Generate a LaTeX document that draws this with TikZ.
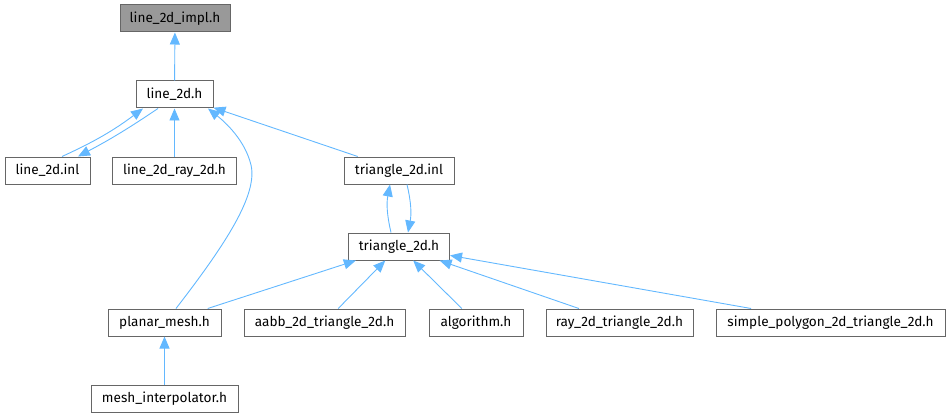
\documentclass[tikz,border=0pt]{standalone}
\usepackage{fontspec}
\setmainfont{Fira Sans}
\usetikzlibrary{arrows.meta}
\definecolor{edgeblue}{HTML}{63B8FF}
\definecolor{boxgray}{HTML}{666666}
\definecolor{fillgray}{HTML}{999999}
\tikzset{
  box/.style={draw=boxgray, line width=1pt, fill=white, minimum height=27pt, inner sep=0pt, font=\fontsize{13.6}{16}\selectfont, text=black},
  edge/.style={draw=edgeblue, line width=0.9pt, -{Triangle[length=12pt,width=10pt]}},
}
\begin{document}
\begin{tikzpicture}[x=1pt,y=-1pt]
\useasboundingbox (0,0) rectangle (950,417);
\node[box, fill=fillgray, minimum width=110pt] (impl) at (175,18.5) {line\_2d\_impl.h};
\node[box, minimum width=77pt] (l2) at (174.5,94.5) {line\_2d.h};
\node[box, minimum width=85pt] (inl) at (47.5,170.5) {line\_2d.inl};
\node[box, minimum width=124pt] (ray2) at (174.5,170.5) {line\_2d\_ray\_2d.h};
\node[box, minimum width=110pt] (tinl) at (399,170.5) {triangle\_2d.inl};
\node[box, minimum width=101pt] (th) at (399,246.5) {triangle\_2d.h};
\node[box, minimum width=113pt] (pm) at (164.5,322.5) {planar\_mesh.h};
\node[box, minimum width=161pt] (aabb) at (324.5,322.5) {aabb\_2d\_triangle\_2d.h};
\node[box, minimum width=94pt] (alg) at (476,322.5) {algorithm.h};
\node[box, minimum width=147pt] (rt) at (619.5,322.5) {ray\_2d\_triangle\_2d.h};
\node[box, minimum width=229pt] (sp) at (830.5,322.5) {simple\_polygon\_2d\_triangle\_2d.h};
\node[box, minimum width=147pt] (mi) at (164.5,398.5) {mesh\_interpolator.h};

\draw[edge] (l2) -- (impl);
\draw[edge] ([xshift=14.5pt]inl.north) to[bend right=6] ([xshift=-31.5pt]l2.south);
\draw[edge] ([xshift=-16.5pt]l2.south) to[bend left=3] ([xshift=30.5pt]inl.north);
\draw[edge] (ray2) -- (l2);
\draw[edge] ([xshift=11.5pt]pm.north) .. controls (225,245) and (258,195) .. (251,165) .. controls (245,140) and (225,122) .. ([xshift=33.5pt]l2.south);
\draw[edge] (tinl) -- (l2);
\draw[edge] ([xshift=-8pt]th.north) to[bend left=12] ([xshift=-9pt]tinl.south);
\draw[edge] ([xshift=8pt]tinl.south) to[bend left=12] ([xshift=9pt]th.north);
\draw[edge] (pm) -- (th);
\draw[edge] (aabb) -- (th);
\draw[edge] (alg) -- (th);
\draw[edge] (rt) -- (th);
\draw[edge] (sp) -- (th);
\draw[edge] (mi) -- (pm);
\end{tikzpicture}
\end{document}
